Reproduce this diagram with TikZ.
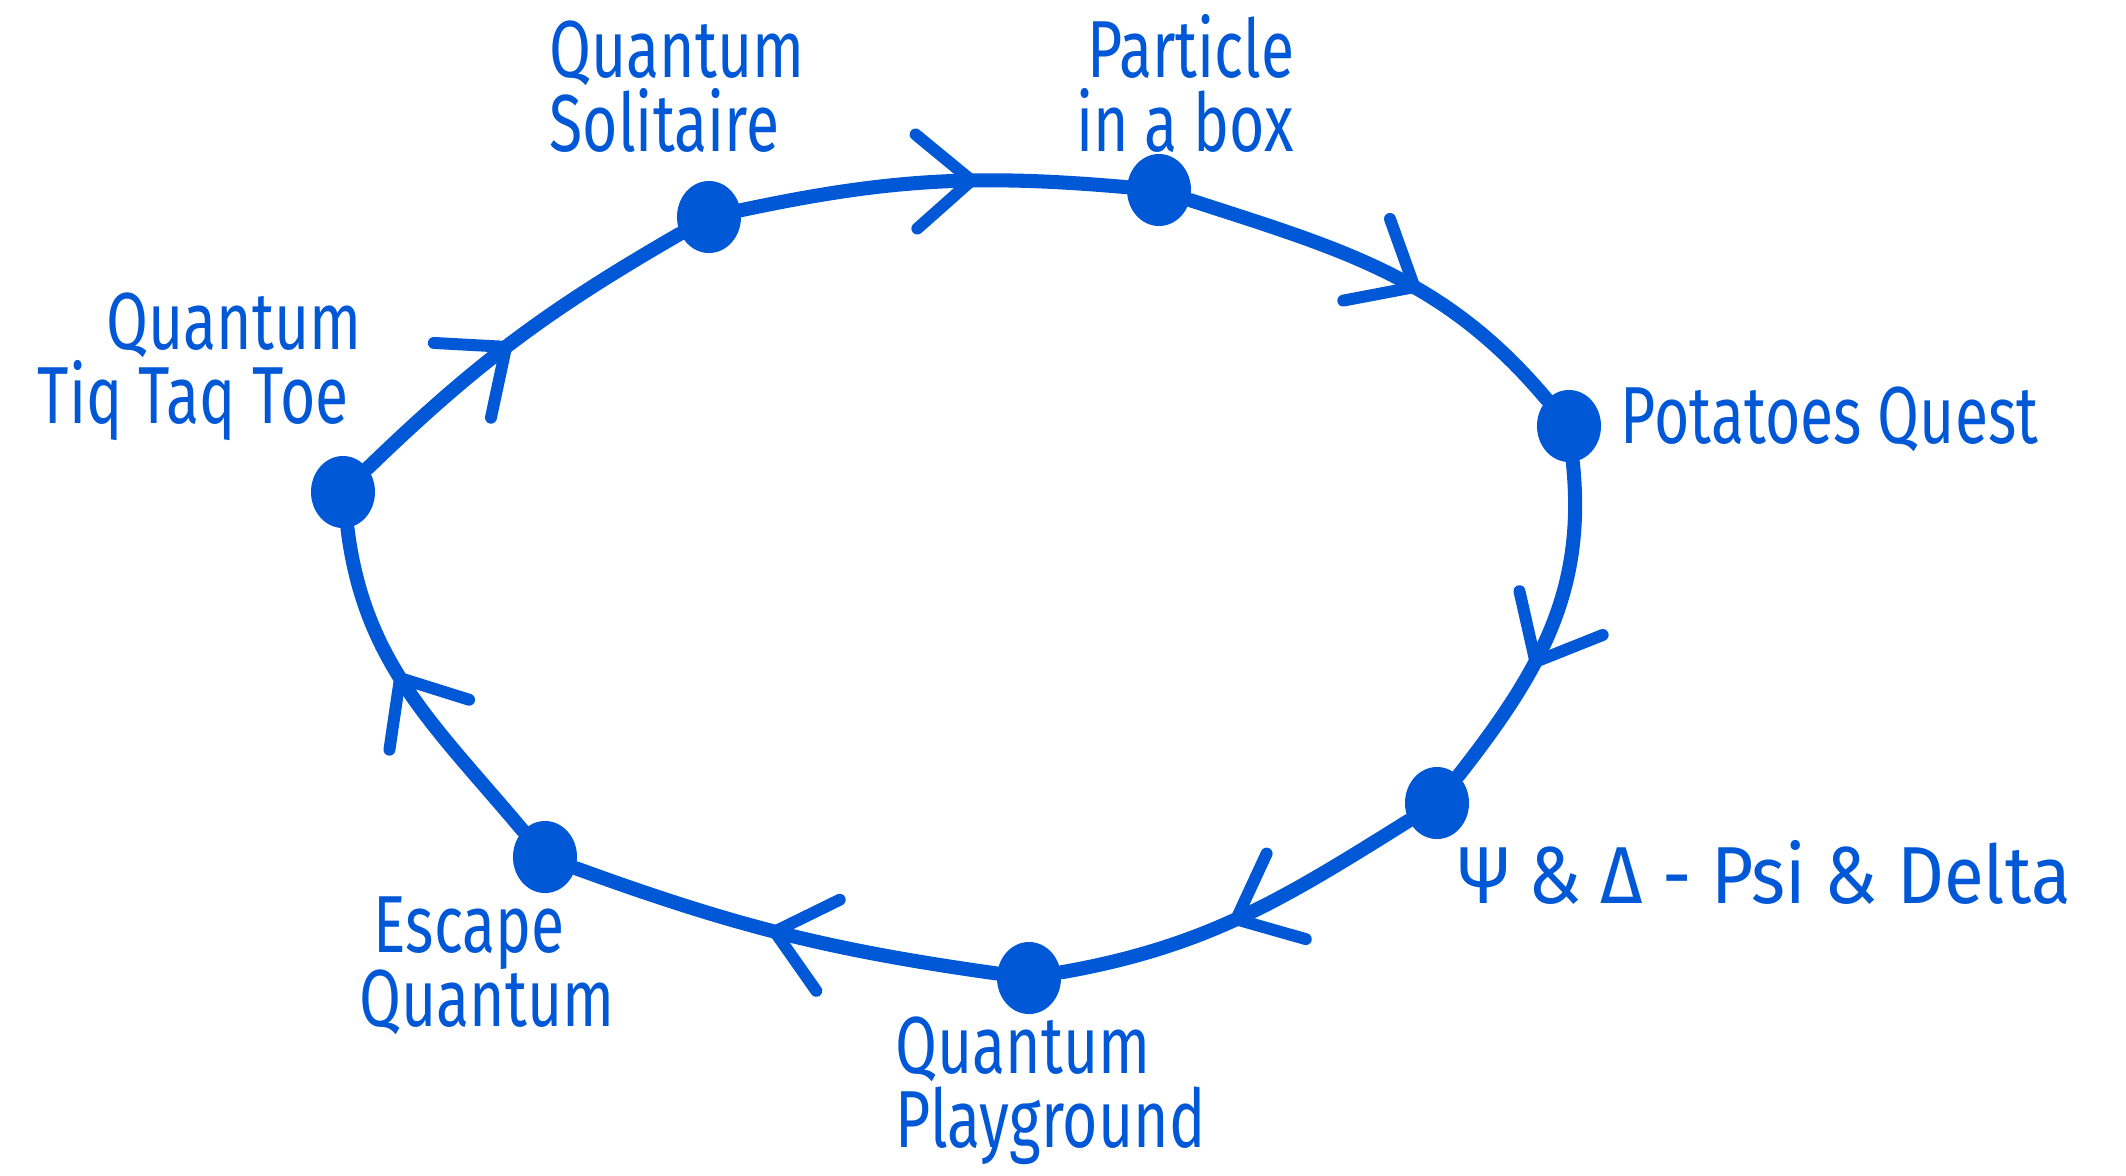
\documentclass[tikz,border=0pt]{standalone}
\usepackage{fontspec}
\setmainfont{Fira Sans}[FakeStretch=0.75]
\newfontfamily\widefont{Fira Sans}[FakeStretch=0.9]
\usetikzlibrary{shapes.geometric,decorations.markings}
\definecolor{inkblue}{RGB}{0,88,214}
\newcommand\lblfont{\fontsize{23}{21}\selectfont\lineskiplimit=-30pt\relax\lineskip=0pt\relax}
\begin{document}
\begin{tikzpicture}[x=0.01cm,y=-0.01cm,
  dot/.style={ellipse,fill=inkblue,draw=none,minimum width=0.64cm,minimum height=0.72cm,inner sep=0pt},
  lbl/.style={text=inkblue,inner sep=0pt,font=\lblfont},
  conn/.style={draw=inkblue,line width=4pt,line cap=round},
  arr/.style={postaction={decorate},decoration={markings,mark=at position #1 with {
     \draw[inkblue,line width=3.4pt,line cap=round,line join=miter] (-0.55cm,0.47cm) -- (0,0) -- (-0.55cm,-0.47cm);}}}
]
\useasboundingbox (0,0) rectangle (2126,1175);
% dots
\node[dot] (qt) at (343,492) {};
\node[dot] (qs) at (709,217) {};
\node[dot] (pb) at (1159,190) {};
\node[dot] (pq) at (1569,426) {};
\node[dot] (pd) at (1437,803) {};
\node[dot] (qp) at (1029,978) {};
\node[dot] (eq) at (545,857) {};
% connectors
\draw[conn,arr=0.47] (qt) to[out=44,in=210] (qs);
\draw[conn,arr=0.6] (qs) to[out=12,in=175] (pb);
\draw[conn,arr=0.58] (pb) to[out=-18,in=130] (pq);
\draw[conn,arr=0.6] (pq) to[out=-84,in=52] (pd);
\draw[conn,arr=0.52] (pd) to[out=-148,in=10] (qp);
\draw[conn,arr=0.52] (qp) to[out=172,in=-20] (eq);
\draw[conn,arr=0.55] (eq) to[out=130,in=-83] (qt);
% labels
\node[lbl,anchor=north west,align=left] (lqs) at (549,20) {Quantum\\Solitaire};
\node[lbl,anchor=north east,align=right] (lpb) at (1295,14) {Particle\\in a box};
\node[lbl,anchor=north west,align=left] (lqt) at (37,292) {\hspace{0.69cm}Quantum\\Tiq Taq Toe};
\node[lbl,anchor=north west] (lpq) at (1620,386) {Potatoes Quest};
\node[lbl,anchor=north west] (lpd) at (1458,840) {\widefont Ψ \& Δ - Psi \& Delta};
\node[lbl,anchor=north west,align=left] (lqp) at (895,1016) {Quantum\\Playground};
\node[lbl,anchor=north west,align=left] (leq) at (359,896) {\hspace{0.14cm}Escape\\Quantum};
\end{tikzpicture}
\end{document}
